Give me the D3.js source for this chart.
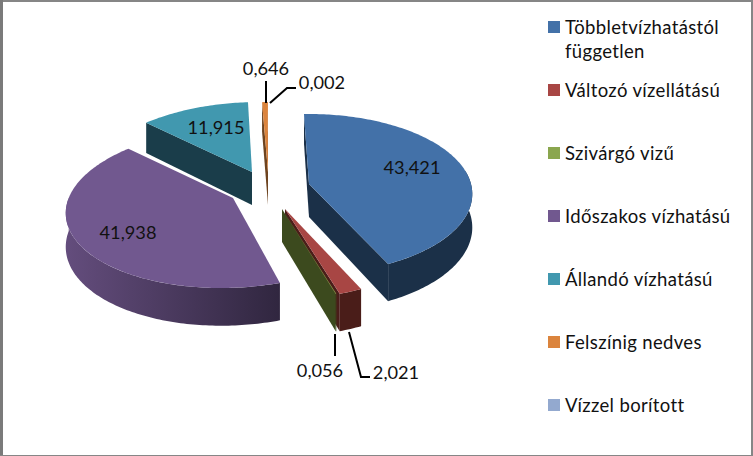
<!DOCTYPE html>
<html><head><meta charset="utf-8">
<style>html,body{margin:0;padding:0;background:#fff}svg{display:block}text{font-family:Lato,"Open Sans",sans-serif;fill:#111}</style>
<script src="https://cdn.jsdelivr.net/npm/d3@7"></script></head>
<body><svg id="c" width="753" height="456"></svg>
<script>
const categories = ["Többletvízhatástól független", "Változó vízellátású", "Szivárgó vizű", "Időszakos vízhatású", "Állandó vízhatású", "Felszínig nedves", "Vízzel borított"];
const values = [43.421, 2.021, 0.056, 41.938, 11.915, 0.646, 0.002];
const valueLabels = ["43,421", "2,021", "0,056", "41,938", "11,915", "0,646", "0,002"];
const topColors = ["#4371a8", "#a84644", "#8aa64e", "#71588f", "#4198af", "#db843d", "#93a9cf"];
const wallColors = ["#1b3048", "#4a1d19", "#3c4a1e", "url(#pw)", "#1a3d4a", "#6e4420", "#4a556a"];

const W = 753, H = 456;
const svg = d3.select("#c");
const defs = svg.append("defs");
const pw = defs.append("linearGradient").attr("id","pw").attr("gradientUnits","userSpaceOnUse")
  .attr("x1",65).attr("x2",281).attr("y1",0).attr("y2",0);
pw.append("stop").attr("offset",0).attr("stop-color","#644d7d");
pw.append("stop").attr("offset",1).attr("stop-color","#30263f");

// chart frame
[[0,0,W,2,"#868686"],[0,0,3,H,"#7a7a7a"],[W-2,0,2,H,"#868686"],[0,H-1,W,1,"#868686"]].forEach(r=>
  svg.append("rect").attr("x",r[0]).attr("y",r[1]).attr("width",r[2]).attr("height",r[3]).attr("fill",r[4]));

// layout: apex of each exploded slice on screen
const apex = [[309,184],[285,209],[282,209],[233,198],[252,172],[268,172],[268,172]];
const drawOrder = [4,5,6,3,0,1,2];
const P = 1/8, RY = 78.75, HT = 33, XC = 309, VD = 570;
const deg = Math.PI/180;
const arcs = d3.pie().sort(null).value(d=>d).startAngle(-2*deg).endAngle(358*deg)(values);
const color = d3.scaleOrdinal().domain(d3.range(categories.length)).range(topColors);

function proj(i, r, t, h){
  const [ax,ay] = apex[i];
  const u = r*Math.sin(t), v = -r*Math.cos(t), s = 1/(1-P*v);
  const RX = 162 + (XC-ax)*0.03, k = (XC-ax)/VD;
  const y = RY*v*s;
  return [ax + RX*u*s - k*y, ay + y + h*HT*s];
}
const line = d3.line().curve(d3.curveLinearClosed);
const sample = (a,b) => { const n = Math.max(2, Math.ceil(Math.abs(b-a)/(1*deg))); return d3.range(n+1).map(j=>a+(b-a)*j/n); };
const chart = svg.append("g");

drawOrder.forEach(i=>{
  const a = arcs[i], t0 = a.startAngle, t1 = a.endAngle;
  const g = chart.append("g");
  const wall = wallColors[i];
  const side = t => line([proj(i,0,t,0),proj(i,1,t,0),proj(i,1,t,1),proj(i,0,t,1)]);
  if (Math.sin(t0) < 0) g.append("path").attr("d",side(t0)).attr("fill",wall);
  if (Math.sin(t1) > 0) g.append("path").attr("d",side(t1)).attr("fill",wall);
  const lo = Math.max(t0, 80*deg), hi = Math.min(t1, 270*deg);
  if (hi > lo){
    const ts = sample(lo,hi);
    const pts = ts.map(t=>proj(i,1,t,0)).concat(ts.slice().reverse().map(t=>proj(i,1,t,1)));
    g.append("path").attr("d",line(pts)).attr("fill",wall);
  }
  const top = [proj(i,0,t0,0)].concat(sample(t0,t1).map(t=>proj(i,1,t,0)));
  g.append("path").attr("d",line(top)).attr("fill",color(i));
});

// leader lines
const leaders = [
  {label:5, pts:[[266,81],[266,103]]},
  {label:6, pts:[[270,103],[287,88],[296,88]]},
  {label:2, pts:[[335,334],[335,356]]},
  {label:1, pts:[[349,332],[361,377],[370,377]]}
];
leaders.forEach(l=>svg.append("path").attr("d",d3.line()(l.pts)).attr("fill","none").attr("stroke","#000").attr("stroke-width",2));

// value labels
const labelPos = [[412,174],[396,379],[320,377],[128,239],[216,134],[266,75],[322,89]];
svg.selectAll("text.v").data(valueLabels).join("text").attr("class","v")
  .attr("x",(d,i)=>labelPos[i][0]).attr("y",(d,i)=>labelPos[i][1])
  .attr("text-anchor","middle").attr("font-size",18.2).text(d=>d);

// legend
const legendY = [21,84,147,210,273,336,399];
const wrap = ["Többletvízhatástól","független"];
const lg = svg.append("g");
categories.forEach((c,i)=>{
  lg.append("rect").attr("x",548).attr("y",legendY[i]).attr("width",12).attr("height",12).attr("fill",color(i));
  const t = lg.append("text").attr("x",565).attr("y",legendY[i]+13).attr("font-size",18.5).attr("letter-spacing",0.35);
  const rows = i===0 ? wrap : [c];
  rows.forEach((r,j)=>t.append("tspan").attr("x",565).attr("dy",j?24:0).text(r));
});
</script></body></html>
